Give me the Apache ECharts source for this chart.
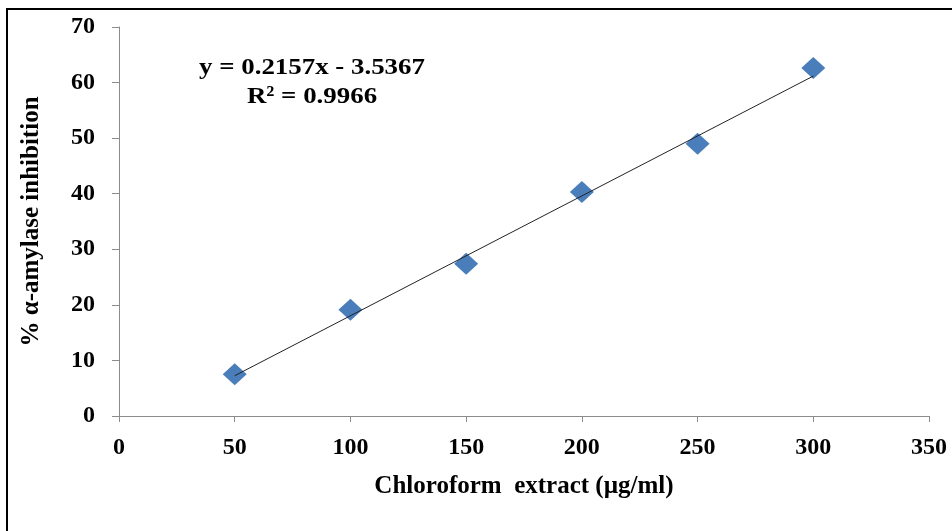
<!DOCTYPE html>
<html>
<head>
<meta charset="utf-8">
<script src="https://cdn.jsdelivr.net/npm/echarts@6/dist/echarts.min.js"></script>
<style>
  html, body { margin: 0; padding: 0; background: #fff; overflow: hidden; }
  .frame {
    position: absolute; left: 6px; top: 8px; width: 960px; height: 540px;
    border-left: 2px solid #000; border-top: 2px solid #000; box-sizing: border-box;
  }
  #main { position: absolute; left: 0; top: 0; width: 952px; height: 531px; }
</style>
</head>
<body>
<div class="frame"></div>
<div id="main"></div>
<script>
// concentrations (µg/ml) and % inhibition
var concentration = [50, 100, 150, 200, 250, 300]
var inhibition = [7.5, 19.1, 27.4, 40.3, 49.0, 62.6]
// ends of the fitted trend line
var trendX = [50, 300]
var trendY = [7.25, 61.17]
var equationText = 'y = 0.2157x - 3.5367'
var r2Text = 'R² = 0.9966'

var font = '"Liberation Serif", "Times New Roman", serif'
var myChart = echarts.init(document.getElementById('main'))

let option = {
  animation: false,
  grid: { left: 119, right: 23, top: 27, bottom: 115 },
  xAxis: {
    type: 'value',
    min: 0,
    max: 350,
    interval: 50,
    name: 'Chloroform  extract (µg/ml)',
    nameLocation: 'middle',
    nameGap: 58,
    nameTextStyle: { fontFamily: font, fontWeight: 'bold', fontSize: 25, color: '#000' },
    axisLine: { lineStyle: { color: '#8c8c8c', width: 1 } },
    axisTick: { show: true, length: 6, lineStyle: { color: '#8c8c8c' } },
    axisLabel: { margin: 20, fontFamily: font, fontWeight: 'bold', fontSize: 24, color: '#000' },
    splitLine: { show: false }
  },
  yAxis: {
    type: 'value',
    min: 0,
    max: 70,
    interval: 10,
    name: '% α-amylase inhibition',
    nameLocation: 'middle',
    nameGap: 75,
    nameTextStyle: { fontFamily: font, fontWeight: 'bold', fontSize: 25, color: '#000' },
    axisLine: { show: true, lineStyle: { color: '#8c8c8c', width: 1 } },
    axisTick: { show: true, length: 7, lineStyle: { color: '#8c8c8c' } },
    axisLabel: { margin: 24, fontFamily: font, fontWeight: 'bold', fontSize: 24, color: '#000' },
    splitLine: { show: false }
  },
  graphic: [
    {
      type: 'text', x: 312, y: 68, scaleX: 1.12,
      style: { text: equationText, align: 'center', verticalAlign: 'middle',
        font: 'bold 24px ' + font, fill: '#000' }
    },
    {
      type: 'text', x: 312, y: 97, scaleX: 1.12,
      style: { text: r2Text, align: 'center', verticalAlign: 'middle',
        font: 'bold 24px ' + font, fill: '#000' }
    }
  ],
  series: [
    {
      name: 'data',
      type: 'scatter',
      symbol: 'diamond',
      symbolSize: [24, 22],
      itemStyle: { color: '#4a7ebb', opacity: 1 },
      data: concentration.map((x, i) => [x, inhibition[i]]),
      z: 2
    },
    {
      name: 'trend',
      type: 'line',
      showSymbol: false,
      symbol: 'none',
      lineStyle: { color: '#222', width: 1 },
      data: trendX.map((x, i) => [x, trendY[i]]),
      z: 3
    }
  ]
}
myChart.setOption(option)
</script>
</body>
</html>
